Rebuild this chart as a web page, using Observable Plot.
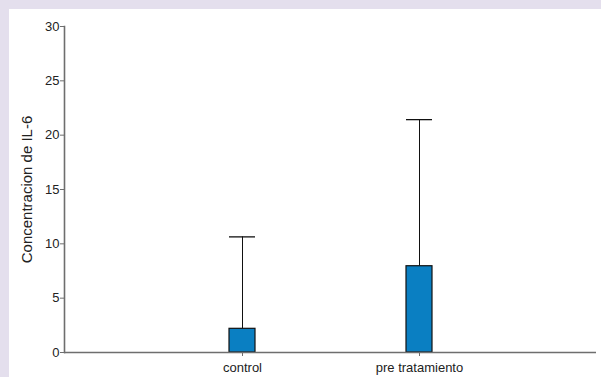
<!DOCTYPE html>
<html>
<head>
<meta charset="utf-8">
<script src="https://cdn.jsdelivr.net/npm/d3@7"></script>
<script src="https://cdn.jsdelivr.net/npm/@observablehq/plot@0.6"></script>
<style>
  html, body { margin: 0; padding: 0; background: #e4dfed; }
  #panel { position: absolute; left: 9px; top: 9px; width: 592px; height: 368px; background: #ffffff; }
  #panel svg { display: block; }
</style>
</head>
<body>
<div id="panel"></div>
<script>
// IL-6 concentration by group: mean bar with upper error whisker
const groups = ["control", "pre tratamiento"];
const means = [2.18, 7.94];
const upper = [10.64, 21.43];
const yTicks = [0, 5, 10, 15, 20, 25, 30];
const yTitle = "Concentracion de IL-6";

const rows = groups.map((g, i) => ({group: g, mean: means[i], upper: upper[i]}));

const axisColor = "#6e6e6e";
const font = "'Liberation Sans', Arial, sans-serif";

const chart = Plot.plot({
  width: 592,
  height: 368,
  marginLeft: 55,
  marginRight: 5,
  marginTop: 17,
  marginBottom: 25,
  style: {fontFamily: font, fontSize: "13px", color: "#222", background: "#ffffff"},
  x: {domain: groups, paddingInner: 0.8534, paddingOuter: 0.9267, label: null},
  y: {domain: [0, 30], label: null},
  marks: [
    // whiskers from bar top to upper value
    Plot.ruleX(rows, {x: "group", y1: "mean", y2: "upper", stroke: "#111", strokeWidth: 1}),
    Plot.tickY(rows, {x: "group", y: "upper", stroke: "#111", strokeWidth: 1.3}),
    Plot.barY(rows, {x: "group", y: "mean", fill: "#0a7fc2", stroke: "#111", strokeWidth: 1.2}),
    // axis lines
    Plot.ruleY([0], {stroke: axisColor, strokeWidth: 1.6}),
    Plot.frame({anchor: "left", stroke: axisColor, strokeWidth: 1.6}),
    Plot.axisY(yTicks, {tickSize: 4, tickPadding: 1, stroke: axisColor, fill: "#222", fontSize: 13, label: null}),
    Plot.axisX({tickSize: 4, tickPadding: 6, stroke: axisColor, fill: "#222", fontSize: 13, label: null}),
    // rotated y-axis title
    Plot.text([yTitle], {text: d => d, frameAnchor: "left", rotate: -90, dx: -37,
      textAnchor: "middle", lineAnchor: "middle", fontSize: 15, fill: "#222"})
  ]
});

document.getElementById("panel").appendChild(chart);
</script>
</body>
</html>
